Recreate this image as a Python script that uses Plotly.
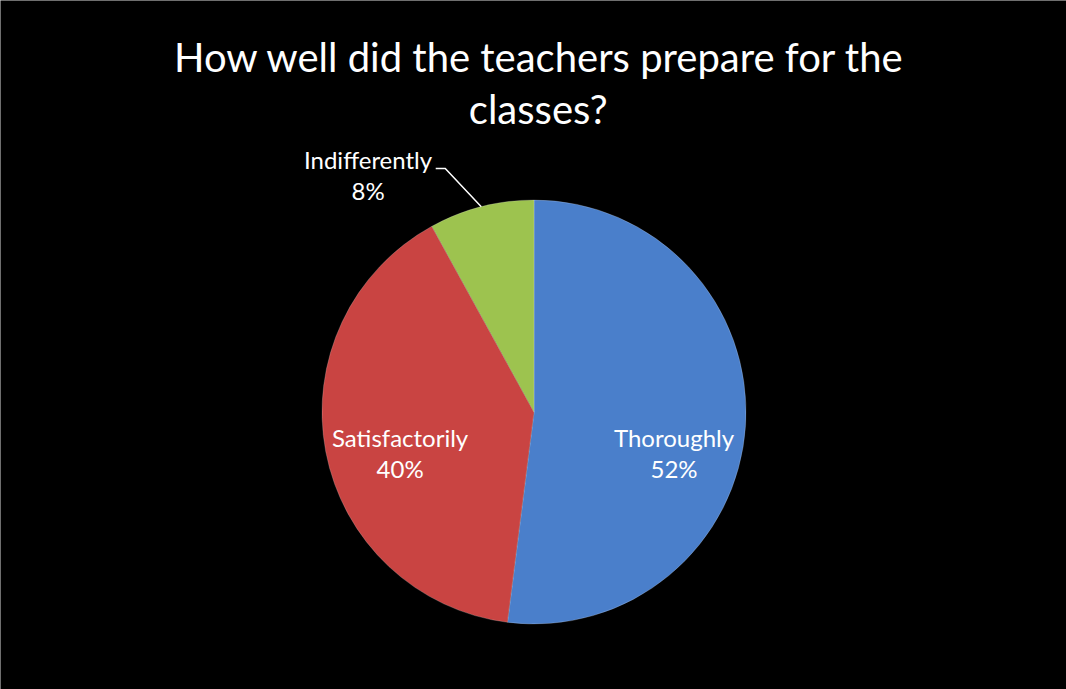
import math
import plotly.graph_objects as go

title_text = "How well did the teachers prepare for the<br>classes?"
categories = ["Thoroughly", "Satisfactorily", "Indifferently"]
values = [52, 40, 8]
colors = ["#4A7FCB", "#C94442", "#9DC34F"]

W, H = 1066, 689
FONT = "Lato"

# pie geometry (paper fractions)
dom_x = [0.3011, 0.7008]
dom_y = [0.0943, 0.7097]

fig = go.Figure()
fig.add_trace(go.Pie(
    labels=categories,
    values=values,
    sort=False,
    direction="clockwise",
    rotation=0,
    marker=dict(colors=colors, line=dict(color="rgba(255,255,255,0.25)", width=0.8)),
    textinfo="none",
    hoverinfo="label+percent",
    showlegend=False,
    domain=dict(x=dom_x, y=dom_y),
))

cx = (dom_x[0] + dom_x[1]) / 2 * W
cy = (1 - (dom_y[0] + dom_y[1]) / 2) * H
R = min((dom_x[1] - dom_x[0]) * W, (dom_y[1] - dom_y[0]) * H) / 2
total = sum(values)


def px(x):
    return x / W


def py(y):
    return 1 - y / H


def polar(angle_deg, r):
    return (cx + r * math.sin(math.radians(angle_deg)),
            cy - r * math.cos(math.radians(angle_deg)))


# label placement style (angle offset from slice middle, radius fraction)
label_style = [(12.5, 0.69), (-6.3, 0.66)]
cum = 0
mids = []
for v in values:
    mids.append((cum + v / 2) / total * 360)
    cum += v

for i in range(2):
    off, rf = label_style[i]
    lx, ly = polar(mids[i] + off, rf * R)
    fig.add_annotation(x=px(lx), y=py(ly), xref="paper", yref="paper",
                       xanchor="center", yanchor="middle", align="center", showarrow=False,
                       text=f"{categories[i]}<br>{values[i]/total:.0%}",
                       font=dict(family=FONT, size=24, color="white"))

# leader label for the small slice
ex, ey = polar(mids[2], R)
elbow_x, elbow_y = ex - 0.17 * R, ey - 0.18 * R
end_x = elbow_x - 0.045 * R
fig.add_shape(type="path", xref="paper", yref="paper",
              path=f"M {px(ex)} {py(ey)} L {px(elbow_x)} {py(elbow_y)} L {px(end_x)} {py(elbow_y)}",
              line=dict(color="white", width=1.5))
fig.add_annotation(x=px(end_x - 1), y=py(elbow_y + 6), xref="paper", yref="paper",
                   xanchor="right", yanchor="middle", align="center", showarrow=False,
                   text=f"{categories[2]}<br>{values[2]/total:.0%}",
                   font=dict(family=FONT, size=24, color="white"))

# title as a centred annotation
fig.add_annotation(x=538 / W, y=py(83), xref="paper", yref="paper",
                   xanchor="center", yanchor="middle", align="center", showarrow=False,
                   text=title_text, font=dict(family=FONT, size=40, color="white"))

# thin frame edges
fig.add_shape(type="line", xref="paper", yref="paper", x0=0, y0=1, x1=1, y1=1,
              line=dict(color="#DDDDDD", width=1))
fig.add_shape(type="line", xref="paper", yref="paper", x0=0, y0=0, x1=0, y1=1,
              line=dict(color="#DDDDDD", width=1))

fig.update_layout(
    width=W, height=H,
    paper_bgcolor="black", plot_bgcolor="black",
    margin=dict(l=0, r=0, t=0, b=0),
)

fig.write_html("out.html", config={"displayModeBar": False})
with open("out.html", "r", encoding="utf-8") as f:
    html = f.read()
html = html.replace("<body>", '<body style="margin:0;padding:0;overflow:hidden;background:black;">', 1)
with open("out.html", "w", encoding="utf-8") as f:
    f.write(html)
